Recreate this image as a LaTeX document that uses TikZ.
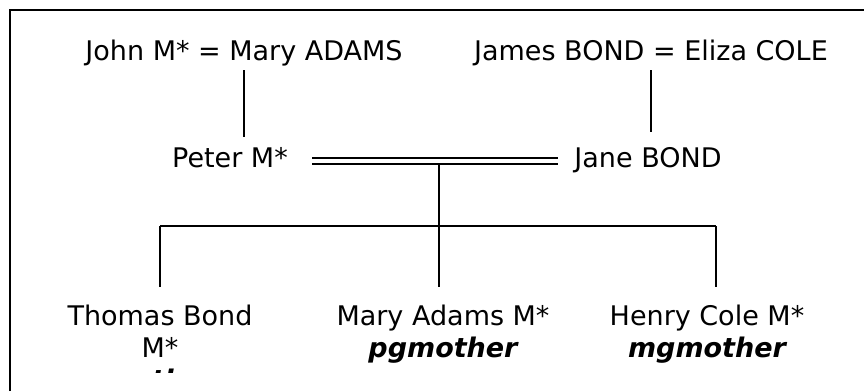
\documentclass[tikz,border=0pt]{standalone}
\usepackage{fontspec}
\setmainfont{DejaVu Sans}[ItalicFont={DejaVu Sans Oblique},BoldItalicFont={DejaVu Sans Bold Oblique}]
\usetikzlibrary{positioning}
\tikzset{
  person/.style={inner sep=0pt, text height=22pt, text depth=10pt, font=\fontsize{27}{32}\selectfont},
  role/.style={person, font=\fontsize{27}{32}\selectfont\bfseries\itshape},
  link/.style={line width=1.7pt},
  wed/.style={link, double, double distance=4pt},
}

\begin{document}
\begin{tikzpicture}[x=1pt,y=-1pt]
  \useasboundingbox (0,0) rectangle (864,391);
  \draw[line width=2pt] (9.5,391) -- (9.5,9.5) -- (864,9.5);
  % grandparents
  \node[person,anchor=base] (jm) at (244,60) {John M* = Mary ADAMS};
  \node[person,anchor=base] (jb) at (651,60) {James BOND = Eliza COLE};
  % parents
  \node[person,anchor=base] (pm) at (230,167) {Peter M*};
  \node[person,anchor=base] (jane) at (648,167) {Jane BOND};
  \draw[link, shorten >=8pt] (jm.south) -- (jm.south |- pm.north);
  \draw[link, shorten >=13pt] (jb.south) -- (jb.south |- jane.north);
  \draw[wed, shorten <=24pt, shorten >=16pt] (pm.east) -- (jane.west);
  % children
  \coordinate (wed) at (439,163.6);
  \coordinate (barL) at (160,226);
  \coordinate (barM) at (439,226);
  \coordinate (barR) at (716,226);
  \draw[link] (wed) -- (barM);
  \draw[link] (barL) -- (barR);
  \node[person,anchor=base] (tb) at (160,325) {Thomas Bond};
  \node[person,below=0pt of tb] (tbm) {M*};
  \begin{scope}
    \clip (0,0) rectangle (864,372);
    \node[role,below=0pt of tbm] (tbr) {mother};
  \end{scope}
  \node[person,anchor=base] (ma) at (443,325) {Mary Adams M*};
  \node[role,below=0pt of ma] (mar) {pgmother};
  \node[person,anchor=base] (hc) at (707,325) {Henry Cole M*};
  \node[role,below=0pt of hc] (hcr) {mgmother};
  \draw[link, shorten >=16pt] (barL) -- (barL |- tb.north);
  \draw[link, shorten >=16pt] (barM) -- (barM |- ma.north);
  \draw[link, shorten >=16pt] (barR) -- (barR |- hc.north);
\end{tikzpicture}
\end{document}
